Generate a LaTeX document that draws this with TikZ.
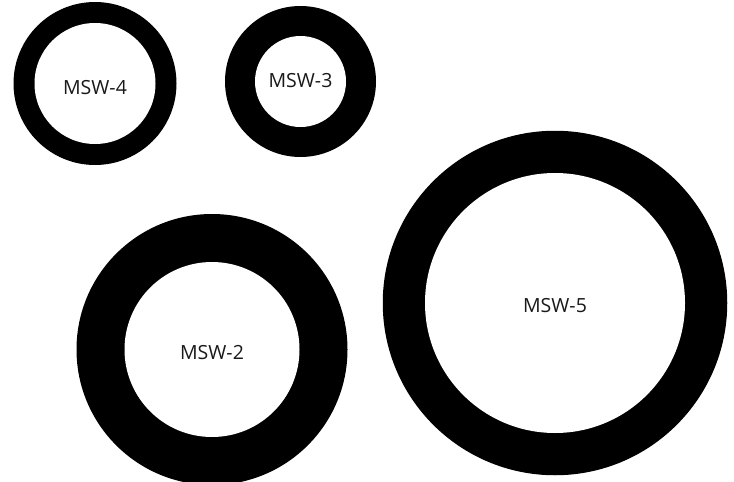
\documentclass[tikz,border=0pt]{standalone}
\usepackage{fontspec}
\setmainfont{Open Sans}
\usepackage{tikz}
\usetikzlibrary{positioning}
\tikzset{ring/.style={circle, fill=black, inner sep=0pt, outer sep=0pt},
         hole/.style={circle, fill=white, inner sep=0pt, outer sep=0pt, text=black!90, font=\fontsize{19.5}{22}\selectfont}}

\begin{document}
\begin{tikzpicture}[x=1pt, y=-1pt]
    \useasboundingbox (0,0) rectangle (734,482);
    % small rings
    \node (r4) [ring, minimum size=163pt] at (95,83.5) {};
    \node (msw4) [hole, minimum size=121pt, text height=21pt, text depth=0pt] at (r4.center) {MSW-4};
    \node (r3) [ring, minimum size=151pt] at (300.5,81.5) {};
    \node (msw3) [hole, minimum size=91pt, text depth=3pt] at (r3.center) {MSW-3};
    % big rings
    \node (r2) [ring, minimum size=271pt] at (212,349.5) {};
    \node (msw2) [hole, minimum size=175pt, text height=19.5pt, text depth=0pt] at (r2.center) {MSW-2};
    \node (r5) [ring, minimum size=344.5pt] at (555,303) {};
    \node (msw5) [hole, minimum size=260pt, text height=18pt, text depth=0pt] at (r5.center) {MSW-5};
\end{tikzpicture}
\end{document}
